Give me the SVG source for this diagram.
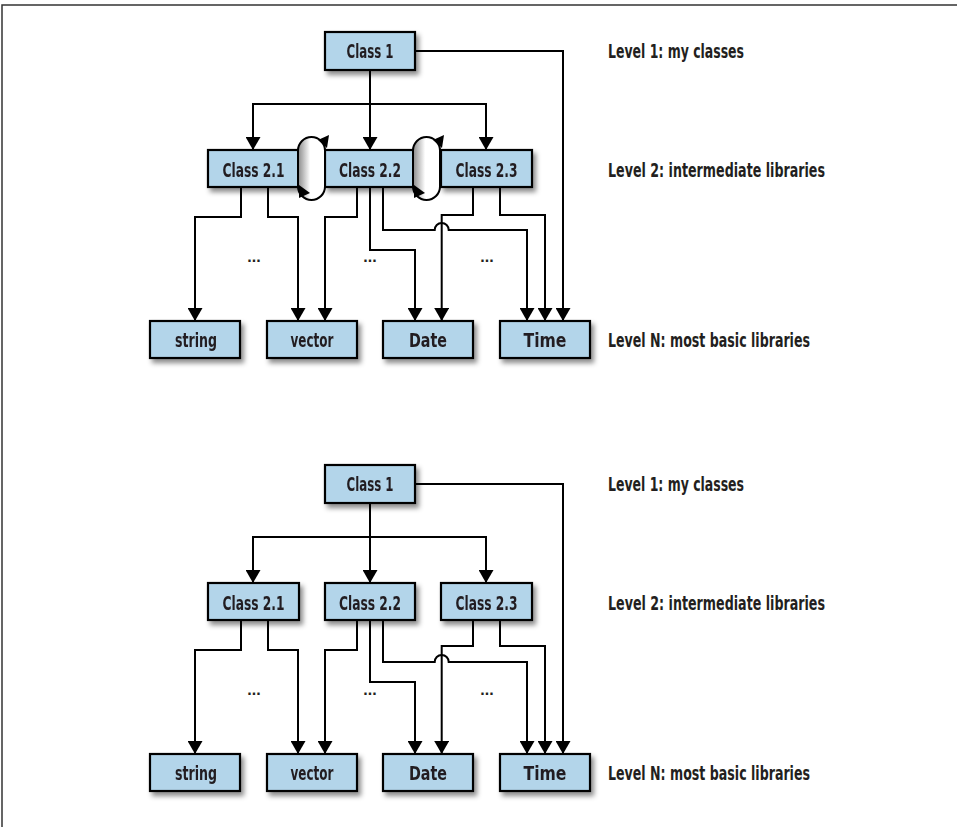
<svg xmlns="http://www.w3.org/2000/svg" width="957" height="827" viewBox="0 0 957 827">
<defs>
<filter id="sh" x="-20%" y="-30%" width="150%" height="180%">
<feDropShadow dx="3" dy="4" stdDeviation="2.5" flood-color="#000" flood-opacity="0.45"/>
</filter>
<marker id="ah" markerUnits="userSpaceOnUse" markerWidth="15" markerHeight="15" refX="13" refY="7.5" orient="auto">
<path d="M0,0 L13,7.5 L0,15 z" fill="#000"/>
</marker>
<linearGradient id="lg" x1="0" y1="0" x2="1" y2="0">
<stop offset="0" stop-color="#8a8a8a"/>
<stop offset="0.45" stop-color="#fff"/>
<stop offset="1" stop-color="#fff"/>
</linearGradient>
<style>
.box{fill:#b3d5ea;stroke:#000;stroke-width:2.2}
.bx{filter:url(#sh)}
.t{font-family:"Liberation Sans Narrow","DejaVu Sans Condensed","Liberation Sans",sans-serif;font-size:19px;font-weight:bold;fill:#231f20;text-anchor:middle}
.lbl{font-family:"Liberation Sans Narrow","DejaVu Sans Condensed","Liberation Sans",sans-serif;font-size:19px;font-weight:bold;fill:#231f20}
.c{fill:none;stroke:#000;stroke-width:2;marker-end:url(#ah)}
.loop{fill:url(#lg);stroke:#000;stroke-width:2}
.dots{font-family:"Liberation Sans",sans-serif;font-size:16px;font-weight:bold;fill:#231f20;text-anchor:middle}
</style>
</defs>
<rect x="0" y="0" width="957" height="827" fill="#fff"/>
<path d="M2,827 V5 H957" fill="none" stroke="#333" stroke-width="1.5"/>

<!-- TOP DIAGRAM -->
<g id="top">
<g id="top-connectors">
<path class="c" d="M415,51 H563 V321"/>
<path class="c" d="M370,70 V150"/>
<path class="c" d="M370,104 H253 V150"/>
<path class="c" d="M370,104 H486 V150"/>
<path class="c" d="M241,187 V217 H195 V321"/>
<path class="c" d="M268,187 V217 H298 V321"/>
<path class="c" d="M357,187 V217 H325 V321"/>
<path class="c" d="M370,187 V250 H415 V321"/>
<path class="c" d="M383,187 V230 H434.7 A7,7 0 0 1 448.7,230 H527 V321"/>
<path class="c" d="M473,187 V215 H441.7 V321"/>
<path class="c" d="M500,187 V215 H545 V321"/>
</g>
<g id="top-class1" class="bx"><rect class="box" x="325" y="32" width="90" height="38"/><text class="t" x="370" y="58" textLength="47" lengthAdjust="spacingAndGlyphs">Class 1</text></g>
<g id="top-class21" class="bx"><rect class="box" x="208" y="150" width="91" height="37"/><text class="t" x="253.5" y="177" textLength="62" lengthAdjust="spacingAndGlyphs">Class 2.1</text></g>
<g id="top-class22" class="bx"><rect class="box" x="325" y="150" width="90" height="37"/><text class="t" x="370" y="177" textLength="62" lengthAdjust="spacingAndGlyphs">Class 2.2</text></g>
<g id="top-class23" class="bx"><rect class="box" x="441" y="150" width="91" height="37"/><text class="t" x="486.5" y="177" textLength="62" lengthAdjust="spacingAndGlyphs">Class 2.3</text></g>
<g id="top-string" class="bx"><rect class="box" x="150" y="321" width="90" height="37"/><text class="t" x="196" y="347" textLength="42" lengthAdjust="spacingAndGlyphs">string</text></g>
<g id="top-vector" class="bx"><rect class="box" x="267" y="321" width="90" height="37"/><text class="t" x="312" y="347" textLength="43" lengthAdjust="spacingAndGlyphs">vector</text></g>
<g id="top-date" class="bx"><rect class="box" x="383" y="321" width="90" height="37"/><text class="t" x="428" y="347" textLength="38" lengthAdjust="spacingAndGlyphs">Date</text></g>
<g id="top-time" class="bx"><rect class="box" x="500" y="321" width="90" height="37"/><text class="t" x="545" y="347" textLength="43" lengthAdjust="spacingAndGlyphs">Time</text></g>
<g id="top-loop1">
<rect class="loop" x="298" y="137" width="27" height="63" rx="13.5"/>
<polygon points="318,140 329,135 327,148" fill="#000"/>
<polygon points="310,193 299,198 299,185" fill="#000"/>
</g>
<g id="top-loop2">
<rect class="loop" x="413" y="137" width="27" height="63" rx="13.5"/>
<polygon points="433,140 444,135 442,148" fill="#000"/>
<polygon points="425,193 414,198 414,185" fill="#000"/>
</g>
<text class="dots" x="254" y="262">...</text>
<text class="dots" x="370" y="262">...</text>
<text class="dots" x="487" y="262">...</text>
<text class="lbl" x="608" y="58" textLength="136" lengthAdjust="spacingAndGlyphs">Level 1: my classes</text>
<text class="lbl" x="608" y="177" textLength="217" lengthAdjust="spacingAndGlyphs">Level 2: intermediate libraries</text>
<text class="lbl" x="608" y="347" textLength="202" lengthAdjust="spacingAndGlyphs">Level N: most basic libraries</text>
</g>

<!-- BOTTOM DIAGRAM -->
<g id="bottom" transform="translate(0,433)">
<g id="bottom-connectors">
<path class="c" d="M415,51 H563 V321"/>
<path class="c" d="M370,70 V150"/>
<path class="c" d="M370,104 H253 V150"/>
<path class="c" d="M370,104 H486 V150"/>
<path class="c" d="M241,187 V217 H195 V321"/>
<path class="c" d="M268,187 V217 H298 V321"/>
<path class="c" d="M357,187 V217 H325 V321"/>
<path class="c" d="M370,187 V249 H415 V321"/>
<path class="c" d="M383,187 V229 H434.7 A7,7 0 0 1 448.7,229 H527 V321"/>
<path class="c" d="M473,187 V213 H441.7 V321"/>
<path class="c" d="M500,187 V213 H545 V321"/>
</g>
<g id="bottom-class1" class="bx"><rect class="box" x="325" y="32" width="90" height="38"/><text class="t" x="370" y="58" textLength="47" lengthAdjust="spacingAndGlyphs">Class 1</text></g>
<g id="bottom-class21" class="bx"><rect class="box" x="208" y="150" width="91" height="37"/><text class="t" x="253.5" y="177" textLength="62" lengthAdjust="spacingAndGlyphs">Class 2.1</text></g>
<g id="bottom-class22" class="bx"><rect class="box" x="325" y="150" width="90" height="37"/><text class="t" x="370" y="177" textLength="62" lengthAdjust="spacingAndGlyphs">Class 2.2</text></g>
<g id="bottom-class23" class="bx"><rect class="box" x="441" y="150" width="91" height="37"/><text class="t" x="486.5" y="177" textLength="62" lengthAdjust="spacingAndGlyphs">Class 2.3</text></g>
<g id="bottom-string" class="bx"><rect class="box" x="150" y="321" width="90" height="37"/><text class="t" x="196" y="347" textLength="42" lengthAdjust="spacingAndGlyphs">string</text></g>
<g id="bottom-vector" class="bx"><rect class="box" x="267" y="321" width="90" height="37"/><text class="t" x="312" y="347" textLength="43" lengthAdjust="spacingAndGlyphs">vector</text></g>
<g id="bottom-date" class="bx"><rect class="box" x="383" y="321" width="90" height="37"/><text class="t" x="428" y="347" textLength="38" lengthAdjust="spacingAndGlyphs">Date</text></g>
<g id="bottom-time" class="bx"><rect class="box" x="500" y="321" width="90" height="37"/><text class="t" x="545" y="347" textLength="43" lengthAdjust="spacingAndGlyphs">Time</text></g>
<text class="dots" x="254" y="262">...</text>
<text class="dots" x="370" y="262">...</text>
<text class="dots" x="487" y="262">...</text>
<text class="lbl" x="608" y="58" textLength="136" lengthAdjust="spacingAndGlyphs">Level 1: my classes</text>
<text class="lbl" x="608" y="177" textLength="217" lengthAdjust="spacingAndGlyphs">Level 2: intermediate libraries</text>
<text class="lbl" x="608" y="347" textLength="202" lengthAdjust="spacingAndGlyphs">Level N: most basic libraries</text>
</g>
</svg>
